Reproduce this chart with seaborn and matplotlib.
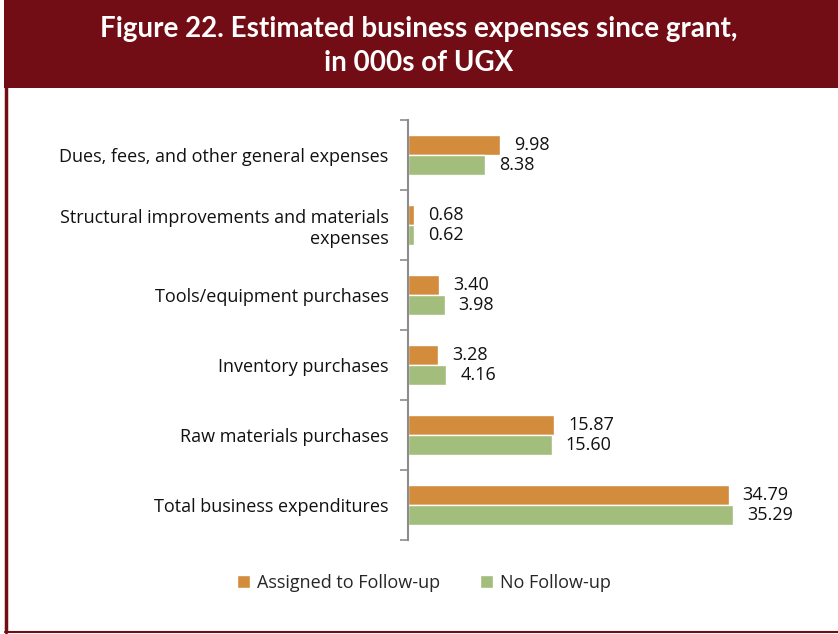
import numpy as np
import pandas as pd
import matplotlib
matplotlib.use("Agg")
import matplotlib.pyplot as plt
import seaborn as sns
from matplotlib.patches import Rectangle, Patch
from matplotlib.lines import Line2D

# data
categories = [
    "Dues, fees, and other general expenses",
    "Structural improvements and materials\nexpenses",
    "Tools/equipment purchases",
    "Inventory purchases",
    "Raw materials purchases",
    "Total business expenditures",
]
assigned = [9.98, 0.68, 3.40, 3.28, 15.87, 34.79]
no_follow = [8.38, 0.62, 3.98, 4.16, 15.60, 35.29]
groups = ["Assigned to Follow-up", "No Follow-up"]

df = pd.DataFrame({
    "category": categories * 2,
    "value": assigned + no_follow,
    "group": [groups[0]] * len(categories) + [groups[1]] * len(categories),
})

orange = "#D28C3C"
green = "#A3BD7D"
maroon = "#730D15"

sns.set_theme(style="white")
plt.rcParams["font.family"] = ["Open Sans", "DejaVu Sans"]

fig = plt.figure(figsize=(8.38, 6.34), dpi=100)
ax = fig.add_axes([0.487, 0.148, 0.44, 0.663])

sns.barplot(data=df, y="category", x="value", hue="group", hue_order=groups,
            order=categories, palette=[orange, green], orient="h",
            width=0.57, ax=ax, legend=False, saturation=1)

ax.set_xlim(0, 40)
ax.set_ylim(len(categories) - 0.5, -0.5)

# value labels
for cont in ax.containers:
    ax.bar_label(cont, fmt="%.2f", padding=10, fontsize=13, color="#111111")

# y axis: boundary ticks, labels at centres
ax.set_yticks(np.arange(-0.5, len(categories)), labels=[])
ax.set_yticks(np.arange(len(categories)), labels=categories, minor=True)
ax.tick_params(axis="y", which="major", length=6, width=1.2, color="#8C8C8C", left=True)
ax.tick_params(axis="y", which="minor", length=0, pad=14, labelsize=13, labelcolor="#111111")
for lbl in ax.get_yticklabels(minor=True):
    lbl.set_multialignment("right")
ax.set_xticks([])
ax.set_xlabel("")
ax.set_ylabel("")
for s in ["top", "right", "bottom"]:
    ax.spines[s].set_visible(False)
ax.spines["left"].set_color("#8C8C8C")
ax.spines["left"].set_linewidth(1.5)

# legend
handles = [Patch(facecolor=orange, label=groups[0]), Patch(facecolor=green, label=groups[1])]
fig.legend(handles=handles, loc="center", bbox_to_anchor=(0.506, 0.081), ncol=2,
           frameon=False, fontsize=13, handlelength=0.7, handleheight=0.7,
           handletextpad=0.4, columnspacing=2.2)

# banner and frame
fig.patches.append(Rectangle((4 / 838, 1 - 88 / 634), 1, 88 / 634, transform=fig.transFigure,
                             facecolor=maroon, edgecolor="none", zorder=0))
fig.lines.append(Line2D([6 / 838, 6 / 838], [2 / 634, 1 - 88 / 634], transform=fig.transFigure,
                        color=maroon, lw=2.5))
fig.lines.append(Line2D([5 / 838, 1], [2 / 634, 2 / 634], transform=fig.transFigure,
                        color=maroon, lw=1.5))
fig.text(0.5, 1 - 46 / 634, "Figure 22. Estimated business expenses since grant,\nin 000s of UGX",
         ha="center", va="center", color="white", fontsize=20, fontweight="bold",
         family=["Lato", "DejaVu Sans"], linespacing=1.35)

fig.savefig("out.png", dpi=100)
